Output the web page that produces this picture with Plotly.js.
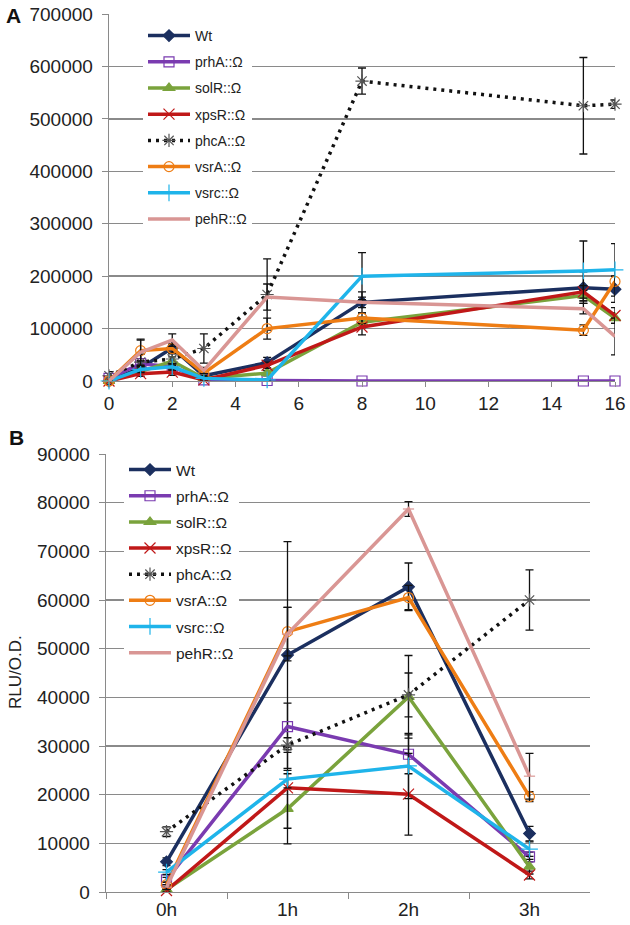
<!DOCTYPE html>
<html>
<head>
<meta charset="utf-8">
<script src="https://cdn.plot.ly/plotly-3.0.1.min.js"></script>
<style>
  body { margin: 0; background: #fff; }
  #chart { width: 630px; height: 925px; }
</style>
</head>
<body>
<div id="chart"></div>
<script>
// strains, same order in both panels
var strains = ['Wt', 'prhA::Ω', 'solR::Ω', 'xpsR::Ω', 'phcA::Ω', 'vsrA::Ω', 'vsrc::Ω', 'pehR::Ω'];

// panel A : hours
var hoursA = [0, 1, 2, 3, 5, 8, 15, 16];
var valuesA = [
  [0, 25000, 63000, 10000, 35000, 150000, 178000, 175000],
  [5000, 33000, 27000, 2000, 1000, 0, 0, 0],
  [0, 18000, 38000, 5000, 15000, 112000, 163000, 120000],
  [0, 14000, 17000, 2000, 30000, 103000, 170000, 125000],
  [10000, 36000, 42000, 62000, 165000, 572000, 525000, 528000],
  [0, 58000, 62000, 15000, 100000, 120000, 97000, 190000],
  [0, 22000, 27000, 5000, 2000, 200000, 210000, 212000],
  [0, 55000, 78000, 20000, 160000, 150000, 138000, 85000]
];
var errorsA = [
  [3000, 10000, 8000, 4000, 10000, 20000, 30000, 25000],
  [4000, 6000, 6000, 2000, 1000, 0, 0, 0],
  [2000, 6000, 8000, 3000, 5000, 10000, 10000, 10000],
  [2000, 5000, 6000, 2000, 6000, 15000, 12000, 15000],
  [8000, 15000, 10000, 28000, 68000, 25000, 92000, 8000],
  [2000, 20000, 8000, 5000, 20000, 10000, 10000, 10000],
  [2000, 6000, 6000, 3000, 2000, 45000, 57000, 50000],
  [2000, 25000, 12000, 6000, 25000, 10000, 10000, 35000]
];

// panel B : hours
var hoursB = ['0h', '1h', '2h', '3h'];
var valuesB = [
  [6200, 48700, 62700, 12000],
  [2500, 34000, 28300, 7200],
  [500, 17100, 40100, 5200],
  [300, 21400, 20100, 3500],
  [12400, 30200, 40500, 60000],
  [1500, 53500, 60500, 19600],
  [4100, 23200, 25900, 8800],
  [1000, 53000, 78700, 23800]
];
var errorsB = [
  [800, 23300, 4900, 1500],
  [500, 4800, 4000, 1000],
  [300, 7200, 8500, 1500],
  [300, 8300, 8400, 800],
  [1000, 1500, 4500, 6200],
  [500, 5000, 2500, 1000],
  [500, 1800, 6700, 1500],
  [500, 5500, 1500, 4700]
];

var colors = ['#1b2f5f', '#7a3bb0', '#7aa33c', '#c01818', '#111111', '#ee7d14', '#1fb4ea', '#d99694'];
var symbols = ['diamond', 'square-open', 'triangle-up', 'x-thin-open', 'asterisk-open', 'circle-open', 'cross-thin-open', 'line-ew-open'];
var markerSizes = [9, 10, 10, 11, 11, 10, 12, 8];

var data = [];

function makeTrace(i, xs, ys, errs, panel) {
  var isPhc = i === 4;
  return {
    x: xs,
    y: ys,
    name: strains[i],
    type: 'scatter',
    mode: i === 7 && panel === 1 ? 'lines' : 'lines+markers',
    xaxis: panel === 1 ? 'x' : 'x2',
    yaxis: panel === 1 ? 'y' : 'y2',
    legend: panel === 1 ? 'legend' : 'legend2',
    legendgroup: 'g' + panel + i,
    cliponaxis: false,
    line: {
      color: colors[i],
      width: isPhc ? 3.5 : 3.5,
      dash: isPhc ? '3px,5px' : 'solid'
    },
    marker: {
      symbol: symbols[i],
      size: markerSizes[i],
      color: isPhc ? '#555' : colors[i],
      line: { color: isPhc ? '#555' : colors[i], width: 1.2 }
    },
    error_y: {
      type: 'data',
      array: errs,
      visible: true,
      color: '#111',
      thickness: 1.3,
      width: 4
    }
  };
}

for (var i = 0; i < strains.length; i++) {
  data.push(makeTrace(i, hoursA, valuesA[i], errorsA[i], 1));
}
for (var i = 0; i < strains.length; i++) {
  data.push(makeTrace(i, hoursB, valuesB[i], errorsB[i], 2));
}

var W = 630, H = 925;
var gridCol = '#8a8a8a';
var tickFont = { family: 'Liberation Sans, Arial, sans-serif', size: 19, color: '#222' };

var layout = {
  width: W,
  height: H,
  margin: { l: 0, r: 0, t: 0, b: 0 },
  paper_bgcolor: '#fff',
  plot_bgcolor: '#fff',
  font: { family: 'Liberation Sans, Arial, sans-serif', color: '#222' },
  showlegend: true,
  xaxis: {
    domain: [109 / W, 615 / W],
    anchor: 'y',
    range: [0, 16],
    dtick: 2,
    showgrid: false,
    zeroline: false,
    showline: true,
    linecolor: gridCol,
    linewidth: 1.3,
    ticks: 'outside',
    ticklen: 5,
    tickcolor: gridCol,
    tickfont: tickFont
  },
  yaxis: {
    domain: [544 / H, 911 / H],
    anchor: 'x',
    range: [0, 700000],
    dtick: 100000,
    tickformat: 'd',
    showgrid: true,
    gridcolor: gridCol,
    gridwidth: 1.3,
    zeroline: false,
    showline: true,
    linecolor: gridCol,
    linewidth: 1.3,
    ticks: 'outside',
    ticklen: 6,
    tickcolor: gridCol,
    ticklabelstandoff: 5,
    tickfont: tickFont
  },
  xaxis2: {
    domain: [106 / W, 590 / W],
    anchor: 'y2',
    type: 'category',
    range: [-0.5, 3.5],
    tickson: 'boundaries',
    showgrid: false,
    zeroline: false,
    showline: true,
    linecolor: gridCol,
    linewidth: 1.3,
    ticks: 'outside',
    ticklen: 6,
    tickcolor: gridCol,
    tickfont: tickFont
  },
  yaxis2: {
    domain: [33 / H, 471 / H],
    anchor: 'x2',
    range: [0, 90000],
    dtick: 10000,
    tickformat: 'd',
    showgrid: true,
    gridcolor: gridCol,
    gridwidth: 1.3,
    zeroline: false,
    showline: true,
    linecolor: gridCol,
    linewidth: 1.3,
    ticks: 'outside',
    ticklen: 6,
    tickcolor: gridCol,
    ticklabelstandoff: 5,
    tickfont: tickFont
  },
  legend: {
    x: 143 / W,
    y: 1 - 20 / H,
    xanchor: 'left',
    yanchor: 'top',
    bgcolor: '#fff',
    borderwidth: 0,
    tracegroupgap: 5,
    itemwidth: 42,
    font: { family: 'Liberation Sans, Arial, sans-serif', size: 14, color: '#222' }
  },
  legend2: {
    x: 124 / W,
    y: 1 - 453 / H,
    xanchor: 'left',
    yanchor: 'top',
    bgcolor: '#fff',
    borderwidth: 0,
    tracegroupgap: 3,
    itemwidth: 42,
    font: { family: 'Liberation Sans, Arial, sans-serif', size: 15.5, color: '#222' }
  },
  annotations: [
    {
      xref: 'paper', yref: 'paper',
      x: 4 / W, y: 1 - 15 / H,
      xanchor: 'left', yanchor: 'middle',
      text: '<b>A</b>',
      showarrow: false,
      font: { family: 'Liberation Sans, Arial, sans-serif', size: 21, color: '#111' }
    },
    {
      xref: 'paper', yref: 'paper',
      x: 7 / W, y: 1 - 437 / H,
      xanchor: 'left', yanchor: 'middle',
      text: '<b>B</b>',
      showarrow: false,
      font: { family: 'Liberation Sans, Arial, sans-serif', size: 21, color: '#111' }
    },
    {
      xref: 'paper', yref: 'paper',
      x: 15 / W, y: 1 - 672 / H,
      xanchor: 'center', yanchor: 'middle',
      text: 'RLU/O.D.',
      textangle: -90,
      showarrow: false,
      font: { family: 'Liberation Sans, Arial, sans-serif', size: 17, color: '#222' }
    }
  ]
};

Plotly.newPlot('chart', data, layout, { displayModeBar: false, staticPlot: true });
</script>
</body>
</html>
